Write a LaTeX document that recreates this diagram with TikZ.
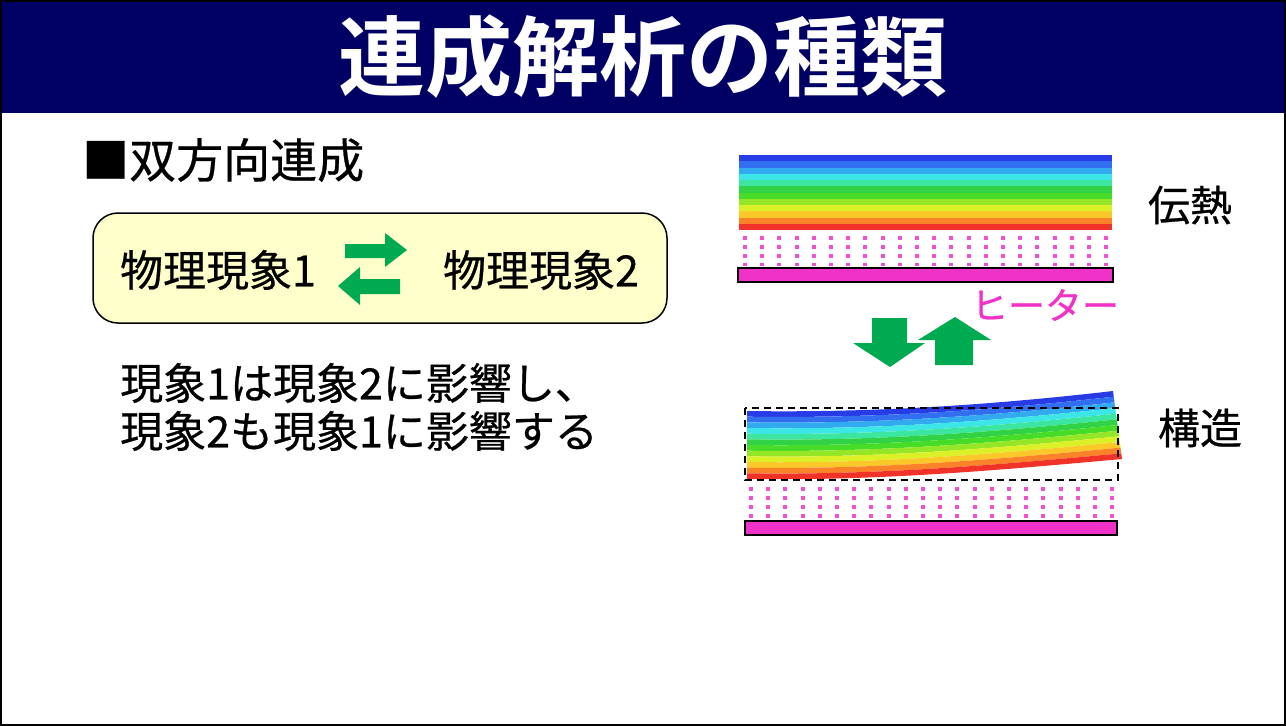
\documentclass[tikz,border=0pt]{standalone}
\usepackage{fontspec}
\newfontfamily\cjk{Noto Sans CJK JP}[FakeBold=0.6,BoldFont={Noto Sans CJK JP Bold},BoldFeatures={FakeBold=0}]
\usetikzlibrary{calc}
\definecolor{navy}{RGB}{0,0,100}
\definecolor{pinkm}{RGB}{240,50,200}
\definecolor{gr}{RGB}{0,170,80}
\definecolor{ylw}{RGB}{255,255,204}
\definecolor{b0}{RGB}{40,60,230}\definecolor{b1}{RGB}{50,110,240}
\definecolor{b2}{RGB}{50,170,240}\definecolor{b3}{RGB}{60,230,230}
\definecolor{b4}{RGB}{60,230,160}\definecolor{b5}{RGB}{50,210,70}
\definecolor{b6}{RGB}{70,220,40}\definecolor{b7}{RGB}{150,230,40}
\definecolor{b8}{RGB}{220,240,40}\definecolor{b9}{RGB}{250,200,40}
\definecolor{b10}{RGB}{250,130,40}\definecolor{b11}{RGB}{240,50,40}
\tikzset{txt/.style={font=\cjk\fontsize{43}{50}\selectfont,inner sep=0pt},
 heater/.style={draw=black,line width=1.5pt,fill=pinkm},
 dots/.style={pinkm!85!white,line width=4pt,dash pattern=on 4pt off 5pt},
 garrow/.style={fill=gr,draw=none}}
\begin{document}
\begin{tikzpicture}[x=1pt,y=-1pt]
\useasboundingbox (0,0) rectangle (1286,726);
\fill[white] (0,0) rectangle (1286,726);
\fill[navy] (0,0) rectangle (1286,113);
\node[font=\cjk\bfseries\fontsize{87}{90}\selectfont,text=white] (title) at (643,57) {連成解析の種類};
\draw[line width=2pt] (1,1) rectangle (1285,725);
% left
\node[txt,anchor=west,font=\cjk\fontsize{47}{50}\selectfont] (h) at (82,160) {■双方向連成};
\draw[line width=1.5pt,fill=ylw,rounded corners=25pt] (93,213) rectangle (667,323);
\node[txt] (p1) at (218,270) {物理現象1};
\node[txt] (p2) at (541,270) {物理現象2};
\fill[garrow] (345,244)--(385,244)--(385,233)--(407,250)--(385,267)--(385,258)--(345,258)--cycle;
\fill[garrow] (400,279)--(360,279)--(360,267)--(338,286)--(360,305)--(360,294)--(400,294)--cycle;
\node[txt,anchor=west] (l1) at (120,383) {現象1は現象2に影響し、};
\node[txt,anchor=west] (l2) at (120,431) {現象2も現象1に影響する};
% heat bar
\foreach \i in {0,...,11}{\fill[b\i] (739,{155+\i*75/12}) rectangle (1112,{155+(\i+1)*75/12+0.3});}
\foreach \k in {0,...,21}{\draw[dots] ({745+\k*17.2},236)--({745+\k*17.2},266);}
\draw[heater] (738,268) rectangle (1113,282);
\node[font=\cjk\fontsize{37}{40}\selectfont,text=pinkm] (ht) at (1045,305) {ヒーター};
\node[txt,font=\cjk\fontsize{42}{46}\selectfont] (t1) at (1190,205) {伝熱};
% green arrows
\fill[garrow] (872,318)--(907,318)--(907,343)--(925,343)--(890,367)--(853,343)--(872,343)--cycle;
\fill[garrow] (935,365)--(973,365)--(973,340)--(991,340)--(955,317)--(918,340)--(935,340)--cycle;
% bent bar
\foreach \i in {0,...,11}{
 \pgfmathsetmacro\ta{\i/12}\pgfmathsetmacro\tb{(\i+1)/12}
 \fill[b\i] (747,{411+68*\ta}) .. controls (880,{413+68*\ta}) and (1000,{404+66*\ta}) .. ({1113+9*\ta},{391+68*\ta})
  -- ({1113+9*\tb},{391+68*\tb}) .. controls (1000,{404+66*\tb}) and (880,{413+68*\tb}) .. (747,{411+68*\tb}) -- cycle;}
\draw[line width=1.3pt,dash pattern=on 7pt off 5pt] (745,408) rectangle (1118,480);
\foreach \k in {0,...,21}{\draw[dots] ({751+\k*17.2},487)--({751+\k*17.2},518);}
\draw[heater] (745,521) rectangle (1117,535);
\node[txt,font=\cjk\fontsize{42}{46}\selectfont] (t2) at (1200,428) {構造};
\end{tikzpicture}
\end{document}
